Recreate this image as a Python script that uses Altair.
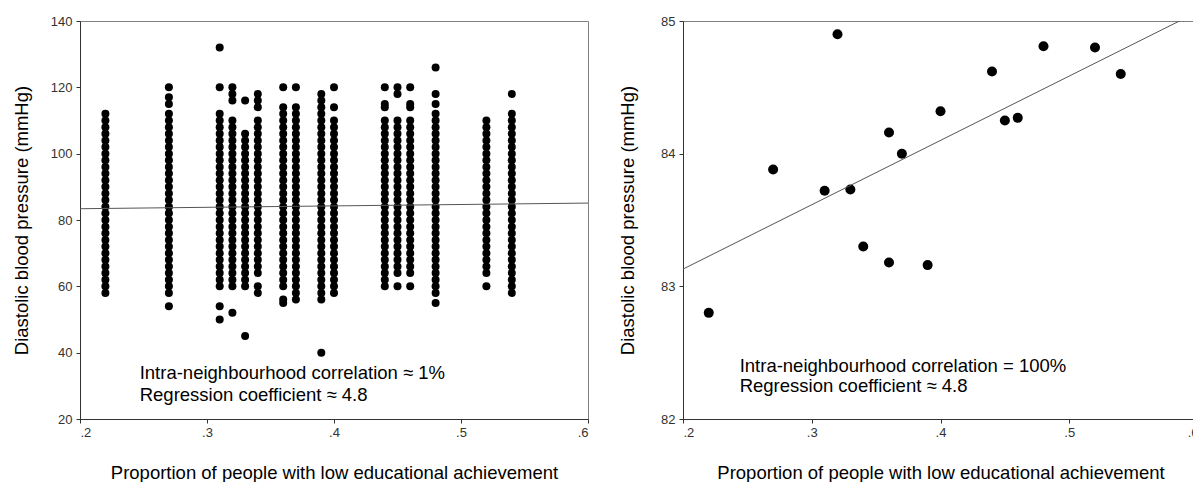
import altair as alt
import pandas as pd

# ---------------- Left panel: individual observations ----------------
# x position of each neighbourhood column
col_x = [0.22, 0.27, 0.31, 0.32, 0.33, 0.34, 0.36, 0.37, 0.39, 0.40,
         0.44, 0.45, 0.46, 0.48, 0.52, 0.54]
# contiguous run of observed values (every 2 mmHg) in each column
run_lo = [58, 58, 60, 60, 60, 64, 60, 56, 56, 58, 60, 64, 64, 58, 64, 58]
run_hi = [112, 112, 112, 110, 104, 110, 114, 114, 118, 110, 110, 110, 110, 112, 110, 112]
# isolated observations outside the runs
extra = [
    [],
    [120, 117, 115, 54],
    [132, 120, 54, 50],
    [120, 118, 116, 52],
    [116, 106, 45],
    [118, 116, 114, 60, 58],
    [120, 56, 55],
    [120],
    [40],
    [120, 114],
    [120, 115, 114],
    [120, 118, 60],
    [120, 115, 114, 60],
    [126, 118, 115, 55],
    [60],
    [118],
]
left_line_x = [0.2, 0.6]
left_line_y = [83.4, 85.1]
left_ann_x = [0.247, 0.247]
left_ann_y = [33.8, 27.2]
left_ann_text = ["Intra-neighbourhood correlation \u2248 1%",
                 "Regression coefficient \u2248 4.8"]

# ---------------- Right panel: neighbourhood means ----------------
r_x = [0.22, 0.27, 0.31, 0.32, 0.33, 0.34, 0.36, 0.36, 0.37, 0.39,
       0.40, 0.44, 0.45, 0.46, 0.48, 0.52, 0.54]
r_y = [82.80, 83.88, 83.72, 84.90, 83.73, 83.30, 84.16, 83.18, 84.00, 83.16,
       84.32, 84.62, 84.25, 84.27, 84.81, 84.80, 84.60]
right_line_x = [0.2, 0.6]
right_line_y = [83.13, 85.07]
right_ann_x = [0.244, 0.244]
right_ann_y = [82.40, 82.245]
right_ann_text = ["Intra-neighbourhood correlation = 100%",
                  "Regression coefficient \u2248 4.8"]

x_ticks = [0.2, 0.3, 0.4, 0.5, 0.6]
left_y_ticks = [20, 40, 60, 80, 100, 120, 140]
right_y_ticks = [82, 83, 84, 85]

XTITLE = "Proportion of people with low educational achievement"
YTITLE = "Diastolic blood pressure (mmHg)"
FONT = "Liberation Sans"

# build tables
rows = []
for cx, lo, hi, ex in zip(col_x, run_lo, run_hi, extra):
    for v in range(lo, hi + 1, 2):
        rows.append({"x": cx, "y": v})
    for v in ex:
        rows.append({"x": cx, "y": v})
left_pts = pd.DataFrame(rows)
left_line = pd.DataFrame({"x": left_line_x, "y": left_line_y})
left_ann = pd.DataFrame({"x": left_ann_x, "y": left_ann_y, "t": left_ann_text})

right_pts = pd.DataFrame({"x": r_x, "y": r_y})
right_line = pd.DataFrame({"x": right_line_x, "y": right_line_y})
right_ann = pd.DataFrame({"x": right_ann_x, "y": right_ann_y, "t": right_ann_text})

LABEL_EXPR = "replace(format(datum.value, '.1f'), '0.', '.')"


def x_enc():
    return alt.X("x:Q",
                 scale=alt.Scale(domain=[0.2, 0.6], nice=False, zero=False),
                 axis=alt.Axis(values=x_ticks, labelExpr=LABEL_EXPR, title=XTITLE,
                               titlePadding=24, labelPadding=3))


def panel(pts, line, ann, ydomain, yticks, size, ytp, w):
    y = alt.Y("y:Q",
              scale=alt.Scale(domain=ydomain, nice=False, zero=False),
              axis=alt.Axis(values=yticks, format="d", title=YTITLE,
                            titlePadding=ytp, labelPadding=4))
    p = alt.Chart(pts).mark_circle(size=size, color="black", opacity=1).encode(x=x_enc(), y=y)
    l = alt.Chart(line).mark_line(color="#555555", strokeWidth=1, clip=True).encode(x="x:Q", y="y:Q")
    t = alt.Chart(ann).mark_text(align="left", baseline="middle", fontSize=18.5,
                                 font=FONT, color="black").encode(x="x:Q", y="y:Q", text="t:N")
    return alt.layer(p, l, t).properties(width=w, height=398)


left = panel(left_pts, left_line, left_ann, [20, 140], left_y_ticks, 64, 19, 508)
right = panel(right_pts, right_line, right_ann, [82, 85], right_y_ticks, 100, 23, 515)

chart = alt.hconcat(left, right, spacing=29).properties(
    padding={"left": 3, "top": 6, "right": -6, "bottom": 0}
).configure_view(stroke="#808080", strokeWidth=1).configure_axis(
    grid=False, tickSize=4, domainColor="#333333", tickColor="#333333",
    labelFont=FONT, labelFontSize=13, labelColor="#333333",
    titleFont=FONT, titleFontSize=18.5, titleFontWeight="normal", titleColor="black"
)

chart.save("out.html", embed_options={"renderer": "svg", "actions": False})
